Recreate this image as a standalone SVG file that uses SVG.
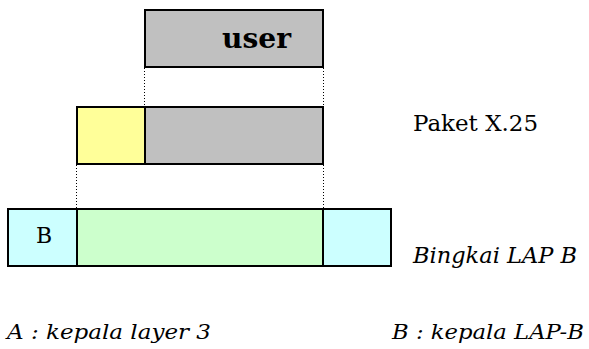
<svg xmlns="http://www.w3.org/2000/svg" width="589" height="349" viewBox="0 0 589 349">
<style>
.box{stroke:#000;stroke-width:2}
.dot{stroke:#000;stroke-width:1;stroke-dasharray:1,2;fill:none}
.t{font-family:"DejaVu Serif","Liberation Serif",serif;fill:#000}
.i{font-style:italic}
</style>
<rect width="589" height="349" fill="#fff"/>
<g id="connectors">
<line class="dot" x1="144.5" y1="68" x2="144.5" y2="107"/>
<line class="dot" x1="323.5" y1="68" x2="323.5" y2="107"/>
<line class="dot" x1="76.5" y1="165" x2="76.5" y2="209"/>
<line class="dot" x1="323.5" y1="165" x2="323.5" y2="209"/>
</g>
<g id="user">
<rect class="box" x="145" y="10" width="178" height="57" fill="#C0C0C0"/>
<text class="t" x="222" y="48" font-size="27" font-weight="bold" textLength="69" lengthAdjust="spacingAndGlyphs">user</text>
</g>
<g id="paket">
<rect class="box" x="77" y="107" width="68" height="57" fill="#FFFF99"/>
<rect class="box" x="145" y="107" width="178" height="57" fill="#C0C0C0"/>
<text class="t" x="413" y="131" font-size="22" textLength="125" lengthAdjust="spacingAndGlyphs">Paket X.25</text>
</g>
<g id="bingkai">
<rect class="box" x="8" y="209" width="69" height="57" fill="#CCFFFF"/>
<rect class="box" x="77" y="209" width="246" height="57" fill="#CCFFCC"/>
<rect class="box" x="323" y="209" width="68" height="57" fill="#CCFFFF"/>
<text class="t" x="36" y="243" font-size="22">B</text>
<text class="t i" x="413" y="263" font-size="22" textLength="164" lengthAdjust="spacingAndGlyphs">Bingkai LAP B</text>
</g>
<g id="legend">
<text class="t i" x="7" y="339" font-size="21" textLength="204" lengthAdjust="spacingAndGlyphs">A : kepala layer 3</text>
<text class="t i" x="392" y="339" font-size="21" textLength="192" lengthAdjust="spacingAndGlyphs">B : kepala LAP-B</text>
</g>
</svg>
